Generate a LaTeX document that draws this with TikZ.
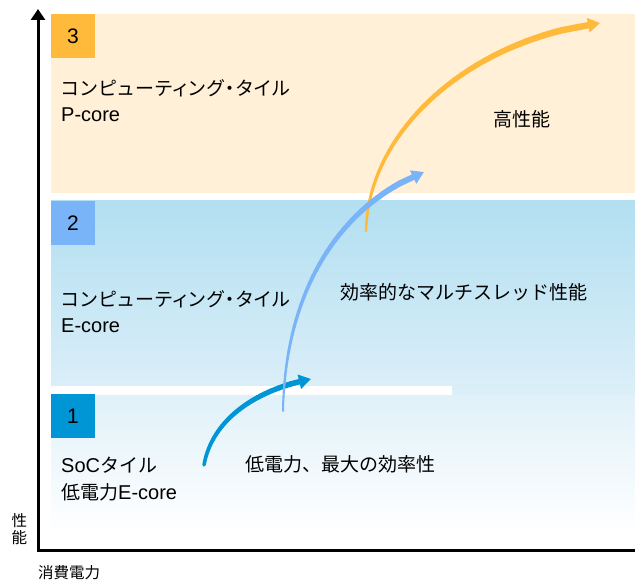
\documentclass[tikz,border=0pt]{standalone}
\usepackage{fontspec}
\setmainfont{Liberation Sans}
\newfontfamily\jp{Noto Sans CJK JP}
\newfontfamily\jpp[RawFeature=+palt, LetterSpace=7]{Noto Sans CJK JP}
\usetikzlibrary{arrows.meta}
\definecolor{bgorange}{RGB}{255,240,215}
\definecolor{badgeO}{RGB}{255,185,59}
\definecolor{badgeL}{RGB}{121,179,248}
\definecolor{badgeD}{RGB}{0,149,212}
\definecolor{rtwotop}{RGB}{178,223,241}
\definecolor{rtwobot}{RGB}{220,239,248}
\definecolor{ronetop}{RGB}{224,241,249}
\definecolor{arrD}{RGB}{0,150,214}
\definecolor{arrL}{RGB}{121,179,248}
\definecolor{arrO}{RGB}{255,185,59}
\newcommand\taperarrow[7]{%
  \path #2 .. controls #3 and #4 .. #5
    foreach \k in {0,...,36}{coordinate[pos=\k/40] (tp\k)};
  \foreach \k in {0,...,35}{%
    \pgfmathsetmacro\tw{#6+(#7-#6)*\k/36}%
    \pgfmathtruncatemacro\kn{\k+1}%
    \draw[draw=#1, line width=\tw pt, line cap=round] (tp\k) -- (tp\kn);}
  \draw[draw=#1, fill=#1, line width=#7pt, -{Triangle[length=12pt,width=14pt]}] (tp36) -- #5;
}
\begin{document}
\begin{tikzpicture}[x=1pt,y=-1pt,
  badge/.style={minimum size=44pt, inner sep=0pt, font=\fontsize{21}{24}\selectfont},
  lbl/.style={anchor=west, inner sep=0pt, font=\fontsize{19}{22}\selectfont},
  latn/.style={anchor=west, inner sep=0pt, font=\fontsize{20}{22}\selectfont},
  axis/.style={line width=3pt, line join=miter}]
\useasboundingbox (0,0) rectangle (635,580);
% regions
\fill[bgorange] (51,14) rectangle (635,193);
\shade[top color=rtwotop, bottom color=rtwobot] (51,201) rectangle (635,395);
\shade[top color=ronetop, bottom color=white] (51,395) rectangle (635,532);
\fill[white] (51,386) rectangle (452,395);
% badges
\node[badge, fill=badgeO] (b3) at (73,36) {3};
\node[badge, fill=badgeL] (b2) at (73,223) {2};
\node[badge, fill=badgeD] (b1) at (73,416) {1};
% axes
\coordinate (ytop) at (38,9);
\coordinate (O) at (38,550);
\coordinate (xend) at (646,550);
\draw[axis, {Triangle[length=11pt,width=14pt]}-{Triangle[length=11pt,width=14pt]}] (ytop) -- (O) -- (xend);
% labels
\node[lbl] (t3a) at (61,88) {\jpp コンピューティング・タイル};
\node[latn] (t3b) at (61,114.5) {P-core};
\node[lbl] (t2a) at (61,299.5) {\jpp コンピューティング・タイル};
\node[latn] (t2b) at (61,326) {E-core};
\node[latn] (t1a) at (61,465) {SoC{\fontsize{19}{22}\selectfont\jp タイル}};
\node[latn] (t1b) at (61,492) {{\fontsize{19}{22}\selectfont\jp 低電力}E-core};
\node[lbl] (d3) at (493,119.5) {\jp 高性能};
\node[lbl] (d2) at (340,292) {\jp 効率的なマルチスレッド性能};
\node[lbl] (d1) at (245,464) {\jp 低電力、最大の効率性};
\node[inner sep=0pt, align=center, font=\jp\fontsize{15.5}{17}\selectfont] (ylab) at (19.5,529.5) {性\\能};
\node[anchor=west, inner sep=0pt, font=\jp\fontsize{15.5}{17}\selectfont] (xlab) at (38,573) {消費電力};
% arrows
\taperarrow{arrD}{(204,465)}{(212,420)}{(255,390)}{(311,379)}{3.5}{5.5}
\taperarrow{arrO}{(366,231)}{(368,130)}{(470,40)}{(600,23)}{2.5}{6.5}
\taperarrow{arrL}{(283,411)}{(285,290)}{(340,205)}{(424,172)}{2}{6}
\end{tikzpicture}
\end{document}
